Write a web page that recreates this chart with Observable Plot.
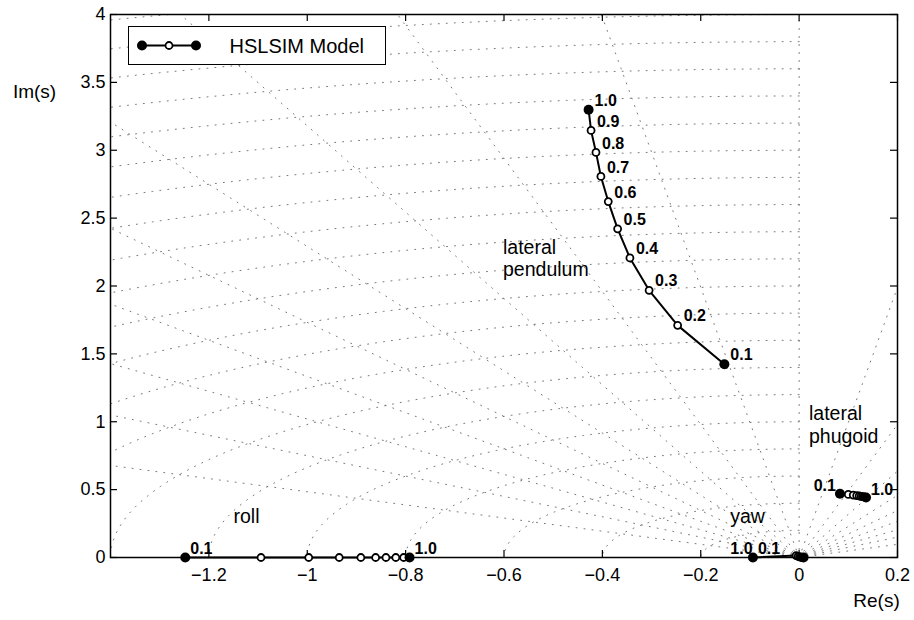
<!DOCTYPE html>
<html><head><meta charset="utf-8">
<script src="https://cdn.jsdelivr.net/npm/d3@7"></script>
<script src="https://cdn.jsdelivr.net/npm/@observablehq/plot@0.6"></script>
<style>
body{margin:0;background:#fff;}
#wrap{position:relative;width:914px;height:620px;font-family:"Liberation Sans",Arial,Helvetica,sans-serif;}
#legend{position:absolute;left:128px;top:26px;width:258px;height:39px;box-sizing:border-box;border:1.5px solid #000;background:#fff;}
#legend svg{position:absolute;left:0;top:0;}
</style></head><body><div id="wrap"></div>
<script>
// ---- data ----
const gains = [0.1, 0.2, 0.3, 0.4, 0.5, 0.6, 0.7, 0.8, 0.9, 1.0];
const pendulumRe = [-0.152, -0.247, -0.305, -0.344, -0.369, -0.388, -0.403, -0.413, -0.423, -0.428];
const pendulumIm = [1.424, 1.710, 1.968, 2.207, 2.421, 2.622, 2.807, 2.984, 3.146, 3.299];
const rollRe = [-1.248, -1.094, -0.997, -0.935, -0.891, -0.861, -0.840, -0.820, -0.804, -0.792];
const rollIm = [0, 0, 0, 0, 0, 0, 0, 0, 0, 0];
const yawRe = [-0.094, -0.006, -0.002, 0.001, 0.003, 0.005, 0.006, 0.007, 0.008, 0.009];
const yawIm = [0, 0.014, 0.009, 0.005, 0.003, 0.002, 0.001, 0, 0, 0];
const phugoidRe = [0.083, 0.100, 0.110, 0.117, 0.122, 0.126, 0.129, 0.132, 0.134, 0.136];
const phugoidIm = [0.470, 0.465, 0.460, 0.456, 0.453, 0.450, 0.448, 0.446, 0.444, 0.442];

const modeNames = ["lateral pendulum", "roll", "yaw", "lateral phugoid"];
const annotations = [
  {text: "lateral\npendulum", re: -0.602, im: 2.29},
  {text: "roll", re: -1.150, im: 0.39},
  {text: "yaw", re: -0.140, im: 0.39},
  {text: "lateral\nphugoid", re: 0.020, im: 1.063}
];
const xTicks = [-1.2, -1, -0.8, -0.6, -0.4, -0.2, 0, 0.2];
const yTicks = [0, 0.5, 1, 1.5, 2, 2.5, 3, 3.5, 4];
const dampingRatios = [-0.9, -0.8, -0.7, -0.6, -0.5, -0.4, -0.3, -0.2, -0.1, 0, 0.1, 0.2, 0.3, 0.4, 0.5, 0.6, 0.7, 0.8, 0.9];
const naturalFreqs = [0.2, 0.4, 0.6, 0.8, 1.0, 1.2, 1.4, 1.6, 1.8, 2.0, 2.2, 2.4, 2.6, 2.8, 3.0, 3.2, 3.4, 3.6, 3.8, 4.0, 4.2];
const legendLabel = "HSLSIM Model";
const xLabel = "Re(s)";
const yLabel = "Im(s)";

// ---- build tables ----
function mode(name, re, im) {
  return gains.map((g, i) => ({mode: name, gain: g, re: re[i], im: im[i]}));
}
const pendulum = mode(modeNames[0], pendulumRe, pendulumIm);
const roll = mode(modeNames[1], rollRe, rollIm);
const yaw = mode(modeNames[2], yawRe, yawIm);
const phugoid = mode(modeNames[3], phugoidRe, phugoidIm);
const allModes = [pendulum, roll, yaw, phugoid];
const allPts = allModes.flat();
const endPts = allModes.flatMap(m => [m[0], m[m.length - 1]]);
const midPts = allModes.flatMap(m => m.slice(1, -1));

// s-plane grid (damping rays and natural-frequency arcs)
const rays = dampingRatios.flatMap(z => [
  {z, re: 0, im: 0},
  {z, re: -z * 8, im: Math.sqrt(1 - z * z) * 8}
]);
const arcs = naturalFreqs.flatMap(w => d3.range(90, 180.5, 1).map(a => ({
  w, re: w * Math.cos(a * Math.PI / 180), im: w * Math.sin(a * Math.PI / 180)
})));

const W = 914, H = 620, mL = 110, mR = 17, mT = 14, mB = 63;
const pw = W - mL - mR, ph = H - mT - mB;
const fmt = d => (d < 0 ? "\u2212" : "") + String(Math.abs(d));
const gfmt = d3.format(".1f");

const lbl = (rows, dx, dy, anchor) => Plot.text(rows, {
  x: "re", y: "im", text: d => gfmt(d.gain), dx, dy, textAnchor: anchor,
  fontSize: 16, fontWeight: "bold", fill: "black"
});
const pick = (m, gs) => m.filter(d => gs.includes(d.gain));

const gridStyle = {stroke: "#6a6a6a", strokeWidth: 0.9, strokeDasharray: "1,7", clip: true};

const chart = Plot.plot({
  width: W, height: H,
  marginLeft: mL, marginRight: mR, marginTop: mT, marginBottom: mB,
  x: {domain: [-1.4, 0.2]},
  y: {domain: [0, 4]},
  style: {fontFamily: "'Liberation Sans', Arial, Helvetica, sans-serif", fontSize: "18px", color: "black", background: "white", overflow: "visible"},
  marks: [
    Plot.line(arcs, {x: "re", y: "im", z: "w", ...gridStyle}),
    Plot.line(rays, {x: "re", y: "im", z: "z", ...gridStyle}),
    Plot.frame({stroke: "black", strokeWidth: 1.5}),
    Plot.tickX(xTicks, {x: d => d, insetTop: ph - 7, stroke: "black", strokeWidth: 1.2}),
    Plot.tickX(xTicks, {x: d => d, insetBottom: ph - 7, stroke: "black", strokeWidth: 1.2}),
    Plot.tickY(yTicks, {y: d => d, insetRight: pw - 7, stroke: "black", strokeWidth: 1.2}),
    Plot.tickY(yTicks, {y: d => d, insetLeft: pw - 7, stroke: "black", strokeWidth: 1.2}),
    Plot.axisX({ticks: xTicks, tickSize: 0, tickPadding: 11, tickFormat: fmt, label: null, fontSize: 18}),
    Plot.axisY({ticks: yTicks, tickSize: 0, tickPadding: 5, tickFormat: fmt, label: null, fontSize: 18}),
    Plot.line(allPts, {x: "re", y: "im", z: "mode", stroke: "black", strokeWidth: 2}),
    Plot.dot(midPts, {x: "re", y: "im", r: 3.5, fill: "white", stroke: "black", strokeWidth: 1.8}),
    Plot.dot(endPts, {x: "re", y: "im", r: 5, fill: "black", stroke: "none"}),
    lbl(pendulum, 6, -9, "start"),
    lbl(pick(roll, [0.1, 1.0]), 5, -9, "start"),
    lbl(pick(yaw, [0.1]), 5, -9, "start"),
    lbl(pick(yaw, [1.0]), -51, -9, "end"),
    lbl(pick(phugoid, [0.1]), -4, -8, "end"),
    lbl(pick(phugoid, [1.0]), 5, -8, "start"),
    Plot.text(annotations, {x: "re", y: "im", text: "text", textAnchor: "start", lineAnchor: "middle", fontSize: 19.5, lineHeight: 1.17, dy: 11, fill: "black"}),
    Plot.text([yLabel], {text: d => d, frameAnchor: "top-left", dx: -76, dy: 70, textAnchor: "middle", fontSize: 19, fill: "black"}),
    Plot.text([xLabel], {text: d => d, frameAnchor: "bottom-right", dx: -21, dy: 49, textAnchor: "middle", fontSize: 19, fill: "black"})
  ]
});

const wrap = document.getElementById("wrap");
wrap.appendChild(chart);

// legend (line with markers)
const leg = document.createElement("div");
leg.id = "legend";
leg.innerHTML = `<svg width="256" height="36" xmlns="http://www.w3.org/2000/svg">
  <line x1="13" y1="18.5" x2="67" y2="18.5" stroke="black" stroke-width="2"/>
  <circle cx="13" cy="18.5" r="5" fill="black"/>
  <circle cx="40" cy="18.5" r="3.5" fill="white" stroke="black" stroke-width="1.8"/>
  <circle cx="67" cy="18.5" r="5" fill="black"/>
  <text x="100.5" y="25.5" font-size="20" fill="black" font-family="'Liberation Sans', Arial, sans-serif">${legendLabel}</text>
</svg>`;
wrap.appendChild(leg);
</script>
</body></html>
